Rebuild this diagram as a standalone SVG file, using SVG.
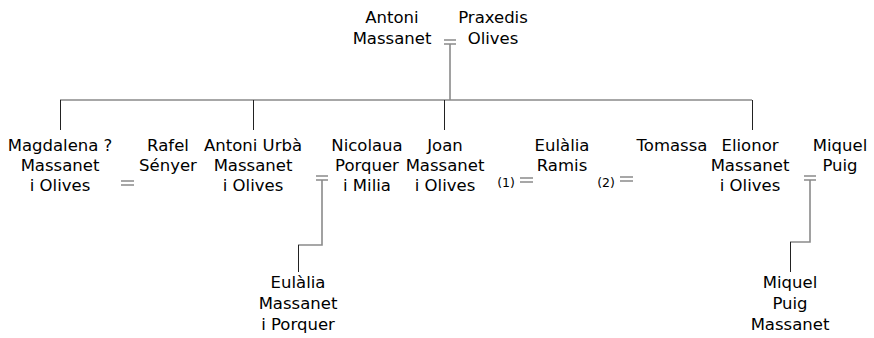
<svg xmlns="http://www.w3.org/2000/svg" width="874" height="338" viewBox="0 0 874 338">
<style>
text{font-family:"DejaVu Sans",Verdana,sans-serif;font-size:16.5px;fill:#000;text-anchor:middle}
text.n{font-size:12.5px}
.g{stroke:#8a8a8a;stroke-width:1.6;fill:none}
.d{stroke:#222;stroke-width:1;fill:none}
</style>
<rect width="874" height="338" fill="#fff"/>
<g id="connectors">
<path class="g" d="M444 40H456M444 44H456M450 44V100M60 100H752"/>
<path class="d" d="M60.5 100V130M253.5 100V130M444.5 100V130M752.5 100V130"/>
<path class="g" d="M121 181H134M121 185H134"/>
<path class="g" d="M316 176H328M316 180H328M322 180V245H298"/>
<path class="d" d="M298.5 245V272"/>
<path class="g" d="M520 178H533M520 182H533"/>
<path class="g" d="M620 177H633M620 181H633"/>
<path class="g" d="M804 176H816M804 180H816M810 180V242H790"/>
<path class="d" d="M790.5 242V272"/>
</g>
<g id="antoni"><text x="392" y="23">Antoni</text><text x="392" y="44">Massanet</text></g>
<g id="praxedis"><text x="493" y="23">Praxedis</text><text x="493" y="44">Olives</text></g>
<g id="magdalena"><text x="60" y="151">Magdalena ?</text><text x="60" y="171">Massanet</text><text x="60" y="191">i Olives</text></g>
<g id="rafel"><text x="168" y="151">Rafel</text><text x="168" y="171">Sényer</text></g>
<g id="antoniurba"><text x="253" y="151">Antoni Urbà</text><text x="253" y="171">Massanet</text><text x="253" y="191">i Olives</text></g>
<g id="nicolaua"><text x="367" y="151">Nicolaua</text><text x="367" y="171">Porquer</text><text x="367" y="191">i Milia</text></g>
<g id="joan"><text x="445" y="151">Joan</text><text x="445" y="171">Massanet</text><text x="445" y="191">i Olives</text></g>
<g id="m1"><text class="n" x="506" y="187">(1)</text></g>
<g id="eulaliaramis"><text x="562" y="151">Eulàlia</text><text x="562" y="171">Ramis</text></g>
<g id="m2"><text class="n" x="606" y="187">(2)</text></g>
<g id="tomassa"><text x="672" y="151">Tomassa</text></g>
<g id="elionor"><text x="750" y="151">Elionor</text><text x="750" y="171">Massanet</text><text x="750" y="191">i Olives</text></g>
<g id="miquelpuig"><text x="840" y="151">Miquel</text><text x="840" y="171">Puig</text></g>
<g id="eulaliamassanet"><text x="298" y="288">Eulàlia</text><text x="298" y="309">Massanet</text><text x="298" y="330">i Porquer</text></g>
<g id="miquelpuigmassanet"><text x="790" y="288">Miquel</text><text x="790" y="309">Puig</text><text x="790" y="330">Massanet</text></g>
</svg>
